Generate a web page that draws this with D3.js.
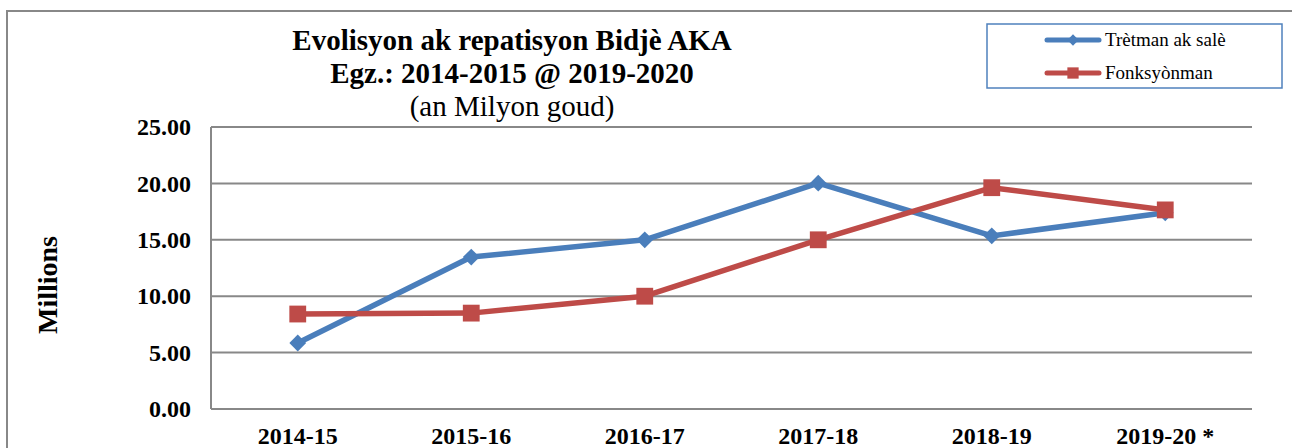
<!DOCTYPE html>
<html>
<head>
<meta charset="utf-8">
<script src="https://cdn.jsdelivr.net/npm/d3@7"></script>
</head>
<body style="margin:0;background:#fff">
<div id="chart"></div>
<script>
const categories = ['2014-15', '2015-16', '2016-17', '2017-18', '2018-19', '2019-20 *'];
const tretman = [5.85, 13.47, 15.0, 20.02, 15.35, 17.4];
const fonksyonman = [8.42, 8.5, 10.0, 15.0, 19.62, 17.65];
const yTicks = [0, 5, 10, 15, 20, 25];

const series = [
  { name: 'Trètman ak salè', values: tretman, color: '#4a7ebb', symbol: d3.symbolDiamond2, size: 180 },
  { name: 'Fonksyònman', values: fonksyonman, color: '#be4b48', symbol: d3.symbolSquare2, size: 360 }
];

const width = 1292, height = 448;
const plot = { left: 211, right: 1252, top: 127, bottom: 409 };
const FONT = "'Liberation Serif', 'Times New Roman', serif";

const svg = d3.select('#chart').append('svg')
  .attr('width', width)
  .attr('height', height)
  .attr('font-family', FONT);

// outer frame
svg.append('rect')
  .attr('x', 7).attr('y', 11)
  .attr('width', 1300).attr('height', 460)
  .attr('fill', 'none')
  .attr('stroke', '#888')
  .attr('stroke-width', 2);

const x = d3.scalePoint()
  .domain(categories)
  .range([plot.left, plot.right])
  .padding(0.5);

const y = d3.scaleLinear()
  .domain([0, 25])
  .range([plot.bottom, plot.top]);

// gridlines
svg.append('g')
  .selectAll('line')
  .data(yTicks)
  .join('line')
  .attr('x1', plot.left)
  .attr('x2', plot.right)
  .attr('y1', d => y(d))
  .attr('y2', d => y(d))
  .attr('stroke', '#888')
  .attr('stroke-width', 2);

// y axis line
svg.append('line')
  .attr('x1', plot.left).attr('x2', plot.left)
  .attr('y1', plot.top).attr('y2', plot.bottom)
  .attr('stroke', '#888')
  .attr('stroke-width', 2);

// y labels
svg.append('g')
  .selectAll('text')
  .data(yTicks)
  .join('text')
  .attr('x', 191)
  .attr('y', d => y(d))
  .attr('dy', '0.34em')
  .attr('text-anchor', 'end')
  .attr('font-size', 24)
  .attr('font-weight', 'bold')
  .text(d => d3.format('.2f')(d));

// x labels
svg.append('g')
  .selectAll('text')
  .data(categories)
  .join('text')
  .attr('x', d => x(d))
  .attr('y', 444)
  .attr('text-anchor', 'middle')
  .attr('font-size', 24)
  .attr('font-weight', 'bold')
  .text(d => d);

// y title
svg.append('text')
  .attr('transform', 'translate(57,285) rotate(-90)')
  .attr('text-anchor', 'middle')
  .attr('font-size', 28)
  .attr('font-weight', 'bold')
  .text('Millions');

// title
const title = svg.append('g').attr('transform', 'translate(512,0)');
title.append('text')
  .attr('y', 50).attr('text-anchor', 'middle')
  .attr('font-size', 29).attr('font-weight', 'bold')
  .text('Evolisyon ak repatisyon Bidjè AKA');
title.append('text')
  .attr('y', 83).attr('text-anchor', 'middle')
  .attr('font-size', 29).attr('font-weight', 'bold')
  .text('Egz.: 2014-2015 @ 2019-2020');
title.append('text')
  .attr('y', 116).attr('text-anchor', 'middle')
  .attr('font-size', 29)
  .text('(an Milyon goud)');

// lines + markers
const line = d3.line()
  .x((d, i) => x(categories[i]))
  .y(d => y(d));

series.forEach(s => {
  svg.append('path')
    .datum(s.values)
    .attr('d', line)
    .attr('fill', 'none')
    .attr('stroke', s.color)
    .attr('stroke-width', 5.5)
    .attr('stroke-linejoin', 'round');
});

series.forEach(s => {
  svg.append('g')
    .selectAll('path')
    .data(s.values)
    .join('path')
    .attr('transform', (d, i) => `translate(${x(categories[i])},${y(d)})`)
    .attr('d', d3.symbol().type(s.symbol).size(s.size))
    .attr('fill', s.color);
});

// legend
const legend = svg.append('g');
legend.append('rect')
  .attr('x', 987).attr('y', 24)
  .attr('width', 295).attr('height', 64)
  .attr('fill', '#fff')
  .attr('stroke', '#4f81bd')
  .attr('stroke-width', 1.5);

series.forEach((s, i) => {
  const ly = 40 + i * 33;
  legend.append('line')
    .attr('x1', 1047).attr('x2', 1099)
    .attr('y1', ly).attr('y2', ly)
    .attr('stroke', s.color)
    .attr('stroke-width', 5)
    .attr('stroke-linecap', 'round');
  legend.append('path')
    .attr('transform', `translate(1073,${ly})`)
    .attr('d', d3.symbol().type(s.symbol).size(s.size * 0.45))
    .attr('fill', s.color);
  legend.append('text')
    .attr('x', 1105).attr('y', ly)
    .attr('dy', '0.33em')
    .attr('font-size', 19)
    .text(s.name);
});
</script>
</body>
</html>
